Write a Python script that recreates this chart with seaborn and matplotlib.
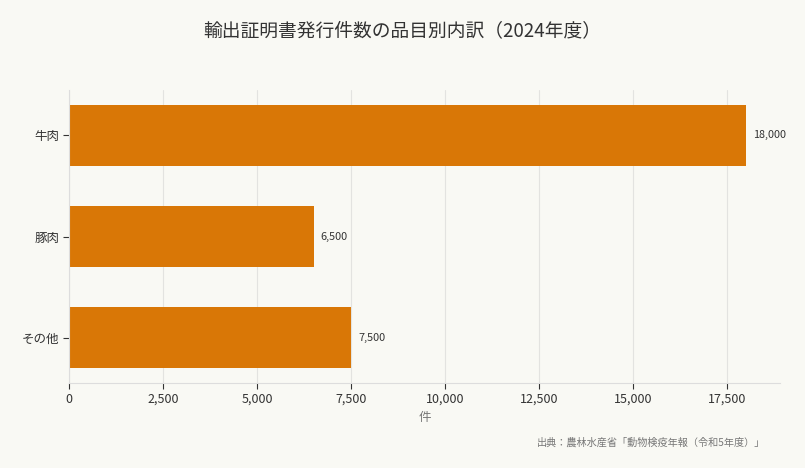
import matplotlib
matplotlib.use("Agg")
import matplotlib.pyplot as plt
import seaborn as sns
import pandas as pd

# data
categories = ["牛肉", "豚肉", "その他"]
counts = [18000, 6500, 7500]

df = pd.DataFrame({"品目": categories, "件数": counts})

bg = "#f9f9f4"
bar_color = "#d97706"

sns.set_theme(style="whitegrid")
plt.rcParams["font.family"] = ["Noto Sans CJK JP", "DejaVu Sans"]

fig = plt.figure(figsize=(8.05, 4.68), dpi=100, facecolor=bg)
ax = fig.add_axes([0.0857, 0.1816, 0.8833, 0.6261])
ax.set_facecolor(bg)

sns.barplot(data=df, x="件数", y="品目", color=bar_color, width=0.6,
            saturation=1, linewidth=0, edgecolor="none", ax=ax, zorder=2)

ax.set_xlim(0, 18900)
ax.set_ylim(2.45, -0.45)
ax.set_xticks(range(0, 18000, 2500))
ax.set_xticklabels([f"{v:,}" for v in range(0, 18000, 2500)])

ax.grid(axis="x", color="#e3e3e0", linewidth=0.8, zorder=0)
ax.grid(axis="y", visible=False)
for side in ["top", "right"]:
    ax.spines[side].set_visible(False)
for side in ["left", "bottom"]:
    ax.spines[side].set_visible(True)
    ax.spines[side].set_color("#dddddd")
    ax.spines[side].set_linewidth(0.8)

ax.tick_params(axis="x", which="both", bottom=True, length=4, width=0.8,
               color="#333333", labelsize=9, labelcolor="#333333", pad=3)
ax.tick_params(axis="y", which="both", left=True, length=4, width=0.8,
               color="#333333", labelsize=9, labelcolor="#333333", pad=3)

ax.set_xlabel("件", fontsize=9, color="#777777", labelpad=4)
ax.set_ylabel("")

for i, v in enumerate(counts):
    ax.annotate(f"{v:,}", xy=(v, i), xytext=(5, 0), textcoords="offset points",
                va="center", ha="left", fontsize=7.8, color="#333333")

fig.text(0.5, 0.935, "輸出証明書発行件数の品目別内訳（2024年度）",
         ha="center", va="center", fontsize=13.5, color="#333333")
fig.text(0.951, 0.055, "出典：農林水産省「動物検疫年報（令和5年度）」",
         ha="right", va="center", fontsize=7.3, color="#777777")

fig.savefig("out.png", dpi=100, facecolor=bg)
